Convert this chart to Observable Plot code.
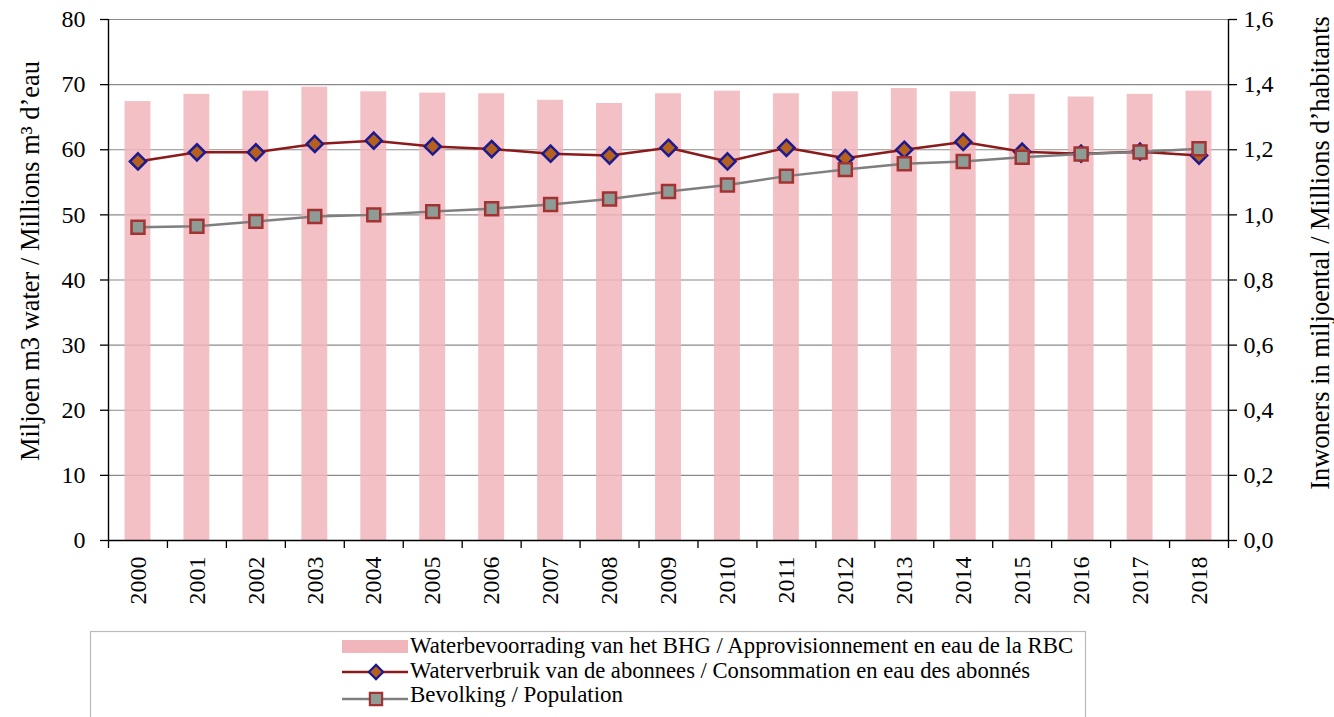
<!DOCTYPE html>
<html><head><meta charset="utf-8">
<script src="https://cdn.jsdelivr.net/npm/d3@7"></script>
<script src="https://cdn.jsdelivr.net/npm/@observablehq/plot@0.6"></script>
<style>
body{margin:0;background:#fff;font-family:'Liberation Serif','Times New Roman',serif;}
#chart svg{display:block;max-width:none !important;}
#legend svg{display:block;}
</style>
</head><body><div id="chart"></div><div id="legend"></div>
<script>
const years = [2000,2001,2002,2003,2004,2005,2006,2007,2008,2009,2010,2011,2012,2013,2014,2015,2016,2017,2018];
const supply = [67.4,68.5,69.0,69.6,68.9,68.7,68.6,67.6,67.1,68.6,69.0,68.6,68.9,69.4,68.9,68.5,68.1,68.5,69.0];
const consumption = [58.2,59.6,59.6,60.9,61.4,60.5,60.1,59.4,59.1,60.3,58.2,60.3,58.7,60.0,61.2,59.7,59.4,59.7,59.1];
const population = [0.962,0.965,0.980,0.995,1.000,1.010,1.019,1.032,1.049,1.072,1.092,1.119,1.139,1.157,1.164,1.177,1.187,1.193,1.203];
const leftTicks = [0,10,20,30,40,50,60,70,80];
const rightTickLabels = ["0,0","0,2","0,4","0,6","0,8","1,0","1,2","1,4","1,6"];
const leftTitle = "Miljoen m3 water / Millions m³ d’eau";
const rightTitle = "Inwoners in miljoental / Millions d’habitants";
const legendLabels = [
  "Waterbevoorrading van het BHG / Approvisionnement en eau de la RBC",
  "Waterverbruik van de abonnees / Consommation en eau des abonnés",
  "Bevolking / Population"
];

// hair space: a non-Latin-1 character that keeps the serif face on every text run
const HS = "\u200A";

const popFactor = 80 / 1.6;
const data = years.map((y, i) => ({year: y, supply: supply[i], consumption: consumption[i], pop: population[i] * popFactor}));
const boundaries = years.map(y => y - 0.5).concat([years[years.length - 1] + 0.5]);
const xExtent = [boundaries[0], boundaries[boundaries.length - 1]];
const halfBar = 0.22;
const serif = "'Liberation Serif','Times New Roman',serif";

const colors = {bar: "#f1b6bb", consLine: "#8b1a1a", consFill: "#b5601f", consStroke: "#1b1a8f",
                popLine: "#7f7f7f", popFill: "#8e9c96", popStroke: "#a33333", grid: "#8a8a8a"};

const W = 1334, H = 630;
const chart = Plot.plot({
  width: W, height: H,
  marginLeft: 108, marginRight: 106, marginTop: 19, marginBottom: 90,
  style: {fontFamily: serif, fontSize: "23px", background: "white", color: "#000", overflow: "visible"},
  x: {type: "linear", domain: xExtent},
  y: {domain: [0, 80]},
  marks: [
    Plot.gridY(leftTicks, {stroke: colors.grid, strokeOpacity: 1, strokeWidth: 1.2}),
    Plot.rectY(data, {x1: d => d.year - halfBar, x2: d => d.year + halfBar, y1: 0, y2: "supply", fill: colors.bar, fillOpacity: 0.85}),
    Plot.line(data, {x: "year", y: "consumption", stroke: colors.consLine, strokeWidth: 2.5}),
    Plot.dot(data, {x: "year", y: "consumption", symbol: "diamond2", r: 7.3, fill: colors.consFill, stroke: colors.consStroke, strokeWidth: 2.5}),
    Plot.line(data, {x: "year", y: "pop", stroke: colors.popLine, strokeWidth: 2.5}),
    Plot.dot(data, {x: "year", y: "pop", symbol: "square", r: 7.3, fill: colors.popFill, stroke: colors.popStroke, strokeWidth: 2.5}),
    Plot.ruleX(xExtent, {stroke: "#000", strokeWidth: 1.4}),
    Plot.ruleY([0], {stroke: "#000", strokeWidth: 1.4}),
    Plot.axisY(leftTicks, {anchor: "left", tickSize: 8, tickPadding: 15, label: null, fontSize: 24, strokeWidth: 1.3,
      fontVariant: "normal", tickFormat: d => HS + String(d)}),
    Plot.axisY(leftTicks, {anchor: "right", tickSize: 8, tickPadding: 7, label: null, fontSize: 24, strokeWidth: 1.3,
      fontVariant: "normal", tickFormat: d => rightTickLabels[leftTicks.indexOf(d)] + HS}),
    Plot.axisX(years, {tickSize: 0, tickPadding: 16, tickRotate: -90, tickFormat: d => HS + String(d), label: null, fontSize: 24, fontVariant: "normal"}),
    Plot.axisX(boundaries, {tickSize: 8, tickFormat: () => "", label: null, strokeWidth: 1.3}),
    Plot.text([leftTitle], {text: d => d, frameAnchor: "left", textAnchor: "middle", rotate: -90, dx: -78, dy: -19, fontSize: 23}),
    Plot.text([rightTitle], {text: d => d, frameAnchor: "right", textAnchor: "middle", rotate: -90, dx: 92, dy: -27, fontSize: 23})
  ]
});
// enlarge the two axis titles around their anchor point
d3.select(chart).selectAll("text")
  .filter(function() { return this.textContent === leftTitle || this.textContent === rightTitle; })
  .each(function() {
    const t = this.getAttribute("transform") || "";
    this.setAttribute("transform", t + " scale(1.15)");
  });
document.getElementById("chart").append(chart);

// Legend
const lg = d3.select("#legend").append("svg").attr("width", W).attr("height", 87)
  .style("font-family", serif);
lg.append("rect").attr("x", 90.5).attr("y", 1.5).attr("width", 995).attr("height", 110)
  .attr("fill", "white").attr("stroke", "#bbbbbb").attr("stroke-width", 1.2);
const baselines = [23, 48, 72];
const markY = [17, 42, 69];
const textWidths = [665, 622, 215];
lg.append("rect").attr("x", 342).attr("y", 10).attr("width", 66).attr("height", 13).attr("fill", colors.bar);
lg.append("line").attr("x1", 342).attr("x2", 408).attr("y1", markY[1]).attr("y2", markY[1])
  .attr("stroke", colors.consLine).attr("stroke-width", 2.5);
lg.append("path").attr("d", d3.symbol(d3.symbolDiamond2, 130)()).attr("transform", `translate(376,${markY[1]})`)
  .attr("fill", colors.consFill).attr("stroke", colors.consStroke).attr("stroke-width", 2.2);
lg.append("line").attr("x1", 342).attr("x2", 408).attr("y1", markY[2]).attr("y2", markY[2])
  .attr("stroke", colors.popLine).attr("stroke-width", 2.5);
lg.append("path").attr("d", d3.symbol(d3.symbolSquare, 150)()).attr("transform", `translate(376,${markY[2]})`)
  .attr("fill", colors.popFill).attr("stroke", colors.popStroke).attr("stroke-width", 2.2);
legendLabels.forEach((t, i) => {
  lg.append("text").attr("x", 410).attr("y", baselines[i])
    .attr("font-size", 24).attr("textLength", textWidths[i]).attr("lengthAdjust", "spacingAndGlyphs")
    .attr("fill", "#000").text(t + HS);
});
</script>
</body></html>
